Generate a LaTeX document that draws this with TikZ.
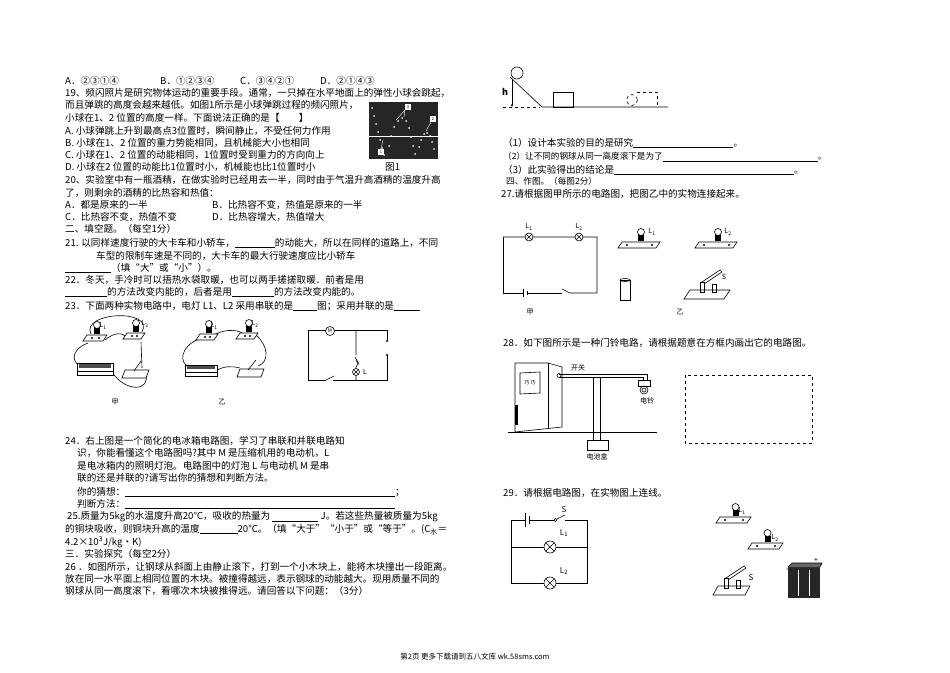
\documentclass[tikz,border=0pt]{standalone}
\usepackage{fontspec}
\setmainfont{Noto Sans CJK SC}
\usetikzlibrary{arrows.meta}
\newcommand{\blank}[1]{\rule[-1.5pt]{#1pt}{0.4pt}}
\tikzset{
 t/.style={anchor=west,inner sep=0pt,font=\fontsize{9.6}{12}\selectfont},
 ts/.style={anchor=west,inner sep=0pt,font=\fontsize{8.6}{11}\selectfont},
 lab/.style={inner sep=0pt,font=\fontsize{7}{8}\selectfont},
 wire/.style={line width=0.6pt},
 board/.style={draw,line width=0.6pt,fill=white},
}
\newcommand{\lampsym}[2]{% center, radius
 \draw[wire,fill=white] (#1) circle (#2);
 \draw[wire] ($(#1)+(-0.7*#2,-0.7*#2)$) -- ($(#1)+(0.7*#2,0.7*#2)$) ($(#1)+(-0.7*#2,0.7*#2)$) -- ($(#1)+(0.7*#2,-0.7*#2)$);}
\usetikzlibrary{calc}
\newcommand{\reallamp}[3]{% x,y board top-left, width
 \draw[board] (#1,#2) -- ++(#3,0) -- ++(-4,6) -- ++(-#3,0) -- cycle;
 \fill ($(#1,#2)+(0.5*#3-3,-1)$) rectangle ++(6,-6);
 \draw[wire,fill=white] ($(#1,#2)+(0.5*#3,-10)$) circle (3.5);
 \fill ($(#1,#2)+(5,3)$) circle (1.2) ($(#1,#2)+(#3-8,3)$) circle (1.2);}
\begin{document}
\begin{tikzpicture}[x=1pt,y=-1pt]
\useasboundingbox (0,0) rectangle (950,672);
% ---------- left column ----------
\node[t] (qa) at (65,81) {A．②③①④};
\node[t] (qb) at (160,81) {B．①②③④};
\node[t] (qc) at (240,81) {C．③④②①};
\node[t] (qd) at (320,81) {D．②①④③};
\node[t] (l19) at (65,93) {19、频闪照片是研究物体运动的重要手段。通常，一只掉在水平地面上的弹性小球会跳起，};
\node[t] (l19b) at (65,105) {而且弹跳的高度会越来越低。如图1所示是小球弹跳过程的频闪照片，};
\node[t] (l19c) at (65,118) {小球在1、2 位置的高度一样。下面说法正确的是【\hspace{2em}】};
\node[t] (l19d) at (65,131) {A. 小球弹跳上升到最高点3位置时，瞬间静止，不受任何力作用};
\node[t] (l19e) at (65,143) {B. 小球在1、2 位置的重力势能相同，且机械能大小也相同};
\node[t] (l19f) at (65,155) {C. 小球在1、2 位置的动能相同，1位置时受到重力的方向向上};
\node[t] (l19g) at (65,167) {D. 小球在2 位置的动能比1位置时小，机械能也比1位置时小};
\node[t] (fig1) at (385,167) {图1};
% photo
\fill[black!85] (369,102) rectangle (438,159);
\draw[white,line width=0.5pt] (369,136) -- (438,136);
\foreach \p in {(372,108),(374,116),(376,124),(378,132),(380,140),(382,148),(384,155),(389,146),(391,136),(394,127),(398,121),(402,118),(406,121),(409,128),(411,137),(413,146),(415,154),(419,147),(421,140),(424,134),(427,133),(430,136),(432,142),(434,149)}
  \fill[white!80!gray] \p circle (1);
\fill[white] (405,104) rectangle (411,110); \node[lab,font=\fontsize{4}{4}\selectfont] (n3) at (408,107) {3};
\fill[white] (430,116) rectangle (436,122); \node[lab,font=\fontsize{4}{4}\selectfont] (n2) at (433,119) {2};
\fill[white] (378,149) rectangle (384,155); \node[lab,font=\fontsize{4}{4}\selectfont] (n1) at (381,152) {1};
\draw[white] (405,110) -- (396,120) (405,110) -- (404,117) (431,122) -- (426,131) (381,149) -- (383,140);
\node[t] (l20) at (65,180) {20、实验室中有一瓶酒精，在做实验时已经用去一半，同时由于气温升高酒精的温度升高};
\node[t] (l20b) at (65,193) {了，则剩余的酒精的比热容和热值：};
\node[t] (l20c) at (65,205) {A．都是原来的一半};
\node[t] (l20d) at (212,205) {B．比热容不变，热值是原来的一半};
\node[t] (l20e) at (65,217) {C．比热容不变，热值不变};
\node[t] (l20f) at (212,217) {D．比热容增大，热值增大};
\node[t] (s2) at (65,229) {二、填空题。（每空1分）};
\node[t] (l21) at (65,243) {21. 以同样速度行驶的大卡车和小轿车，\blank{40}的动能大，所以在同样的道路上，不同};
\node[t] (l21b) at (96,256) {车型的限制车速是不同的，大卡车的最大行驶速度应比小轿车};
\node[t] (l21c) at (65,268) {\blank{46}（填“大”或“小”）。};
\node[t] (l22) at (65,280) {22．冬天，手冷时可以捂热水袋取暖，也可以两手搓搓取暖．前者是用};
\node[t] (l22b) at (65,292) {\blank{42}的方法改变内能的，后者是用\blank{42}的方法改变内能的。};
\node[t] (l23) at (65,306) {23．下面两种实物电路中，电灯 L1、L2 采用串联的是\blank{24}图；采用并联的是\blank{26}};
% fig 甲
\draw[wire] (91,334) .. controls (80,312) and (155,308) .. (142,332);
\draw[wire] (105,340) .. controls (115,332) and (122,332) .. (127,338);
\draw[wire] (88,343) .. controls (70,350) and (72,362) .. (80,366);
\draw[wire] (141,342) -- (142,368);
\draw[wire] (112,372) .. controls (125,392) and (150,392) .. (146,374);
\reallamp{87}{335}{20} \reallamp{127}{333}{18}
\node[lab] (la1) at (103,326) {L\textsubscript{1}};
\node[lab] (la2) at (145,324) {L\textsubscript{2}};
\draw[board] (77,363) rectangle (113,371); \fill[black!70] (79,364) rectangle (111,368);
\draw[board] (77,371) rectangle (113,375);
\draw[board] (125,370) -- (149,370) -- (146,378) -- (122,378) -- cycle;
\draw[wire] (134,371) -- (141,361);
\node[lab] (jia) at (115,402) {甲};
% fig 乙
\draw[wire] (212,336) .. controls (222,330) and (235,328) .. (244,334);
\draw[wire] (203,338) .. controls (185,342) and (178,358) .. (186,365);
\draw[wire] (256,335) .. controls (268,345) and (270,362) .. (258,366);
\draw[wire] (217,370) .. controls (225,366) and (232,366) .. (240,368);
\reallamp{200}{334}{18} \reallamp{240}{333}{18}
\node[lab] (lb1) at (214,326) {L\textsubscript{1}};
\node[lab] (lb2) at (255,324) {L\textsubscript{2}};
\draw[board] (185,365) rectangle (217,372); \fill[black!70] (187,366) rectangle (215,369);
\draw[board] (185,372) rectangle (217,376);
\draw[board] (240,369) -- (264,369) -- (261,377) -- (237,377) -- cycle;
\draw[wire] (248,370) -- (256,360);
\node[lab] (yi) at (222,402) {乙};
% fridge schematic
\coordinate (fa) at (308,330); \coordinate (fb) at (387,330);
\coordinate (fc) at (387,380); \coordinate (fd) at (308,380);
\draw[wire] (fa) -- (fb) -- (387,341) (387,355) -- (fc) -- (333,380);
\draw[wire] (326,380) -- (fd) -- (fa);
\draw[wire] (326,380) -- (334,376);
\fill[white] (387,341) circle (1); \draw (387,341) circle (1.2) (387,355) circle (1.2);
\draw[wire,fill=white] (330,331) circle (4.5); \node[lab] (mm) at (330,331) {\fontsize{5}{5}\selectfont M};
\draw[wire] (356,330) -- (356,355) (356,360) -- (358,364) -- (356,367) -- (356,380);
\draw[wire] (355,357) -- (359,364);
\lampsym{356,372}{3.5}
\node[lab] (ll) at (365,372) {L};
% 24
\node[t] (l24) at (65,441) {24．右上图是一个简化的电冰箱电路图，学习了串联和并联电路知};
\node[t] (l24b) at (77,453) {识，你能看懂这个电路图吗?其中 M 是压缩机用的电动机，L};
\node[t] (l24c) at (77,466) {是电冰箱内的照明灯泡。电路图中的灯泡 L 与电动机 M 是串};
\node[t] (l24d) at (77,478) {联的还是并联的?请写出你的猜想和判断方法。};
\node[t] (l24e) at (77,492) {你的猜想：\blank{270}；};
\node[t] (l24f) at (77,504) {判断方法：\blank{270}};
\node[t] (l25) at (67,517) {25.质量为5kg的水温度升高20℃，吸收的热量为 \rule[-1.5pt]{46pt}{0.8pt} J。若这些热量被质量为5kg};
\node[t] (l25b) at (65,530) {的铜块吸收，则铜块升高的温度\rule[-1.5pt]{38pt}{0.8pt}20℃。（填“大于”“小于”或“等于”。(C\textsubscript{水}＝};
\node[t] (l25c) at (65,542) {4.2×10\textsuperscript{3}J/kg·K)};
\node[t] (s3) at (65,554) {三．实验探究（每空2分）};
\node[t] (l26) at (65,567) {26 ．如图所示，让钢球从斜面上由静止滚下，打到一个小木块上，能将木块撞出一段距离。};
\node[t] (l26b) at (65,579) {放在同一水平面上相同位置的木块。被撞得越远，表示钢球的动能越大。现用质量不同的};
\node[t] (l26c) at (65,591) {钢球从同一高度滚下，看哪次木块被推得远。请回答以下问题：（3分）};
% ---------- right column ----------
\draw[wire] (510,77) -- (542,107) -- (668,107);
\draw[wire,dashed] (503,107) -- (540,107);
\draw[wire] (517,73) circle (6);
\draw[-{Stealth[length=3pt]},line width=0.5pt] (512,80) -- (512,107);
\node[lab,font=\bfseries\fontsize{9}{9}\selectfont] (hh) at (505,92) {h};
\draw[wire] (553,92) rectangle (573,107);
\draw[wire,dashed] (632,100) circle (5.5);
\draw[wire,dashed] (637,92) -- (657,92) -- (657,107);
\node[t] (r1) at (503,143) {（1）设计本实验的目的是研究\blank{100}。};
\node[ts] (r2) at (503,157) {（2）让不同的钢球从同一高度滚下是为了\blank{155}。};
\node[t] (r3) at (503,170) {（3）此实验得出的结论是\blank{180}。};
\node[ts] (s4) at (506,181) {四、作图。（每图2分）};
\node[t] (l27) at (501,194) {27.请根据图甲所示的电路图，把图乙中的实物连接起来。};
% 27 甲
\coordinate (pa) at (503,237); \coordinate (pb) at (597,237);
\coordinate (pc) at (597,293); \coordinate (pd) at (503,293);
\draw[wire] (pa) -- (pb) -- (pc) -- (570,293) -- (562,289);
\draw[wire] (562,293) -- (527,293) (523,293) -- (pd) -- (pa);
\draw[wire] (523,289) -- (523,297) (527,291) -- (527,295);
\lampsym{529,237}{4} \lampsym{579,237}{4}
\node[lab] (p1) at (529,227) {L\textsubscript{1}};
\node[lab] (p2) at (579,227) {L\textsubscript{2}};
\node[lab] (pj) at (530,312) {甲};
% 27 乙
\reallamp{622}{242}{38} \reallamp{699}{242}{38}
\node[lab] (q1) at (652,232) {L\textsubscript{1}};
\node[lab] (q2) at (728,232) {L\textsubscript{2}};
\draw[wire,fill=white] (620,280) rectangle (630,300); \draw[wire] (625,280) ellipse (5 and 1.5);
\draw[board] (690,290) -- (730,290) -- (724,299) -- (684,299) -- cycle;
\draw[wire] (700,292) rectangle (704,282) (712,292) rectangle (716,284);
\draw[wire] (702,282) -- (720,270) -- (722,272) -- (704,284);
\node[lab] (qs) at (724,277) {S};
\node[lab] (py) at (680,312) {乙};
% 28
\node[t] (l28) at (503,343) {28．如下图所示是一种门铃电路，请根据题意在方框内画出它的电路图。};
\draw[wire] (515,363) -- (548,363) -- (562,367) -- (562,427) -- (515,432) -- cycle;
\draw[wire] (548,363) -- (548,428);
\draw[wire] (520,373) -- (540,372) -- (540,393) -- (520,394) -- cycle;
\node[lab] (dd) at (530,383) {\fontsize{5}{5}\selectfont 巧 巧};
\fill (515,405) rectangle (518,425);
\draw[wire] (508,432) -- (657,432);
\draw[wire] (559,374) -- (647,374) -- (647,380) (559,377) -- (643,377) -- (643,380);
\draw[wire] (593,377) -- (593,440) (600,377) -- (600,440);
\draw[wire] (587,440) rectangle (608,450);
\draw[wire] (559,375.5) circle (2);
\draw[wire,fill=white] (638,380) rectangle (650,386);
\draw[wire] (644,390) circle (4) (644,390) circle (2);
\node[lab] (kg) at (578,368) {开关};
\node[lab] (dl) at (647,401) {电铃};
\node[lab] (dc) at (597,457) {电池盒};
\draw[dashed,line width=0.6pt] (685,375) rectangle (812,443);
% 29
\node[t] (l29) at (503,493) {29．请根据电路图，在实物图上连线。};
\coordinate (ka) at (511,520); \coordinate (kb) at (587,520);
\coordinate (kc) at (587,583); \coordinate (kd) at (511,583);
\draw[wire] (ka) -- (525,520) (529,520) -- (554,520);
\draw[wire] (565,520) -- (kb) -- (kc) -- (kd) -- (ka);
\draw[wire] (525,513) -- (525,527) (529,516) -- (529,524);
\draw[wire] (555.5,520) circle (1.5) (557,519) -- (565,515);
\draw[wire] (511,547) -- (587,547);
\lampsym{550,547}{6} \lampsym{550,583}{6}
\node[lab,font=\fontsize{8}{8}\selectfont] (sS) at (564,510) {S};
\node[lab,font=\fontsize{8}{8}\selectfont] (k1) at (564,533) {L\textsubscript{1}};
\node[lab,font=\fontsize{8}{8}\selectfont] (k2) at (564,571) {L\textsubscript{2}};
\reallamp{720}{517}{31} \reallamp{752}{543}{31}
\node[lab] (m1) at (742,511) {L\textsubscript{1}};
\node[lab] (m2) at (775,538) {L\textsubscript{2}};
\draw[board] (718,586) -- (750,586) -- (745,595) -- (713,595) -- cycle;
\draw[wire] (724,588) rectangle (728,578) (736,588) rectangle (740,580);
\draw[wire] (726,578) -- (744,566) -- (746,568) -- (728,580);
\node[lab,font=\fontsize{8}{8}\selectfont] (ms) at (751,578) {S};
\fill[black!85] (788,567) rectangle (820,598);
\draw[white,line width=0.6pt] (798,570) -- (798,596) (809,570) -- (809,596);
\draw[wire,fill=black!60] (788,567) -- (792,563) -- (822,563) -- (820,567);
\node[lab] (bp) at (816,560) {+};
\node[lab] (bm) at (787,570) {-};
% footer
\node[inner sep=0pt,font=\fontsize{7.5}{9}\selectfont] (foot) at (475,657) {第2页 更多下载请到五八文库 wk.58sms.com};
\end{tikzpicture}
\end{document}
